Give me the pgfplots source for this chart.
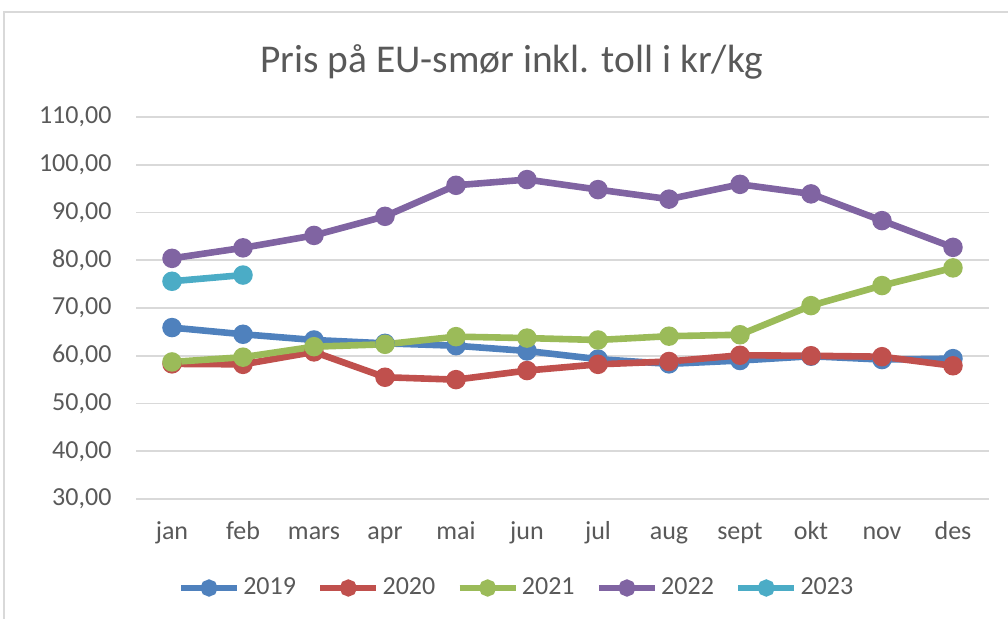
\documentclass[border=0pt]{standalone}
\usepackage{fontspec}
\setmainfont{Carlito}
\usepackage{pgfplots}
\pgfplotsset{compat=1.18}
\definecolor{cA}{HTML}{4F81BD}
\definecolor{cB}{HTML}{C0504D}
\definecolor{cC}{HTML}{9BBB59}
\definecolor{cD}{HTML}{8064A2}
\definecolor{cE}{HTML}{4BACC6}
\definecolor{txt}{HTML}{595959}
\definecolor{gridc}{HTML}{D9D9D9}
\begin{document}
\begin{tikzpicture}[x=1pt,y=1pt]
\path[use as bounding box] (0,0) rectangle (504,-309.5);
\draw[gridc, line width=1pt] (2,-309.5) -- (2,-6) -- (504,-6);
\node[txt, font=\fontsize{19.7}{23}\selectfont] at (256,-31) {Pris på EU-smør inkl. toll i kr/kg};
\begin{axis}[
  at={(68.25pt,-249.5pt)}, anchor=south west,
  scale only axis, width=426pt, height=191pt,
  xmin=-0.5, xmax=11.5, ymin=30, ymax=110,
  ytick={30,40,...,110},
  xtick={0,...,11},
  xticklabels={jan,feb,mars,apr,mai,jun,jul,aug,sept,okt,nov,des},
  axis line style={draw=none},
  major tick length=0pt,
  ymajorgrids,
  grid style={gridc, line width=0.9pt},
  tick label style={font=\fontsize{13}{15}\selectfont, text=txt},
  yticklabel style={/pgf/number format/.cd, fixed, fixed zerofill, precision=2, use comma, assume math mode=true, /tikz/.cd, xshift=-9pt},
  xticklabel style={anchor=base, yshift=-20.5pt},
  every axis plot/.append style={line width=3.3pt, mark=*, mark size=3.2pt, mark options={solid}},
  legend columns=5,
  legend style={at={(0.4466,-0.233)}, anchor=center, draw=none, fill=none,
    font=\fontsize{13}{15}\selectfont, text=txt,
    /tikz/every even column/.append style={column sep=9pt},
    nodes={inner sep=1.5pt}},
  legend image code/.code={\draw[mark repeat=2, mark phase=2, mark size=2.6pt] plot coordinates {(0pt,0pt) (14pt,0pt) (28pt,0pt)};},
]
\addplot[color=cA] coordinates {(0,65.9) (1,64.5) (2,63.3) (3,62.6) (4,62.1) (5,61.0) (6,59.3) (7,58.3) (8,59.0) (9,59.9) (10,59.2) (11,59.4)};
\addplot[color=cB] coordinates {(0,58.3) (1,58.2) (2,60.8) (3,55.5) (4,55.0) (5,56.9) (6,58.2) (7,58.8) (8,60.1) (9,60.0) (10,59.8) (11,57.9)};
\addplot[color=cC] coordinates {(0,58.7) (1,59.7) (2,61.9) (3,62.4) (4,64.0) (5,63.7) (6,63.3) (7,64.1) (8,64.4) (9,70.5) (10,74.7) (11,78.4)};
\addplot[color=cD] coordinates {(0,80.4) (1,82.6) (2,85.2) (3,89.2) (4,95.7) (5,96.9) (6,94.8) (7,92.8) (8,95.9) (9,93.9) (10,88.3) (11,82.7)};
\addplot[color=cE] coordinates {(0,75.6) (1,76.9)};
\legend{2019,2020,2021,2022,2023}
\end{axis}
\end{tikzpicture}
\end{document}
